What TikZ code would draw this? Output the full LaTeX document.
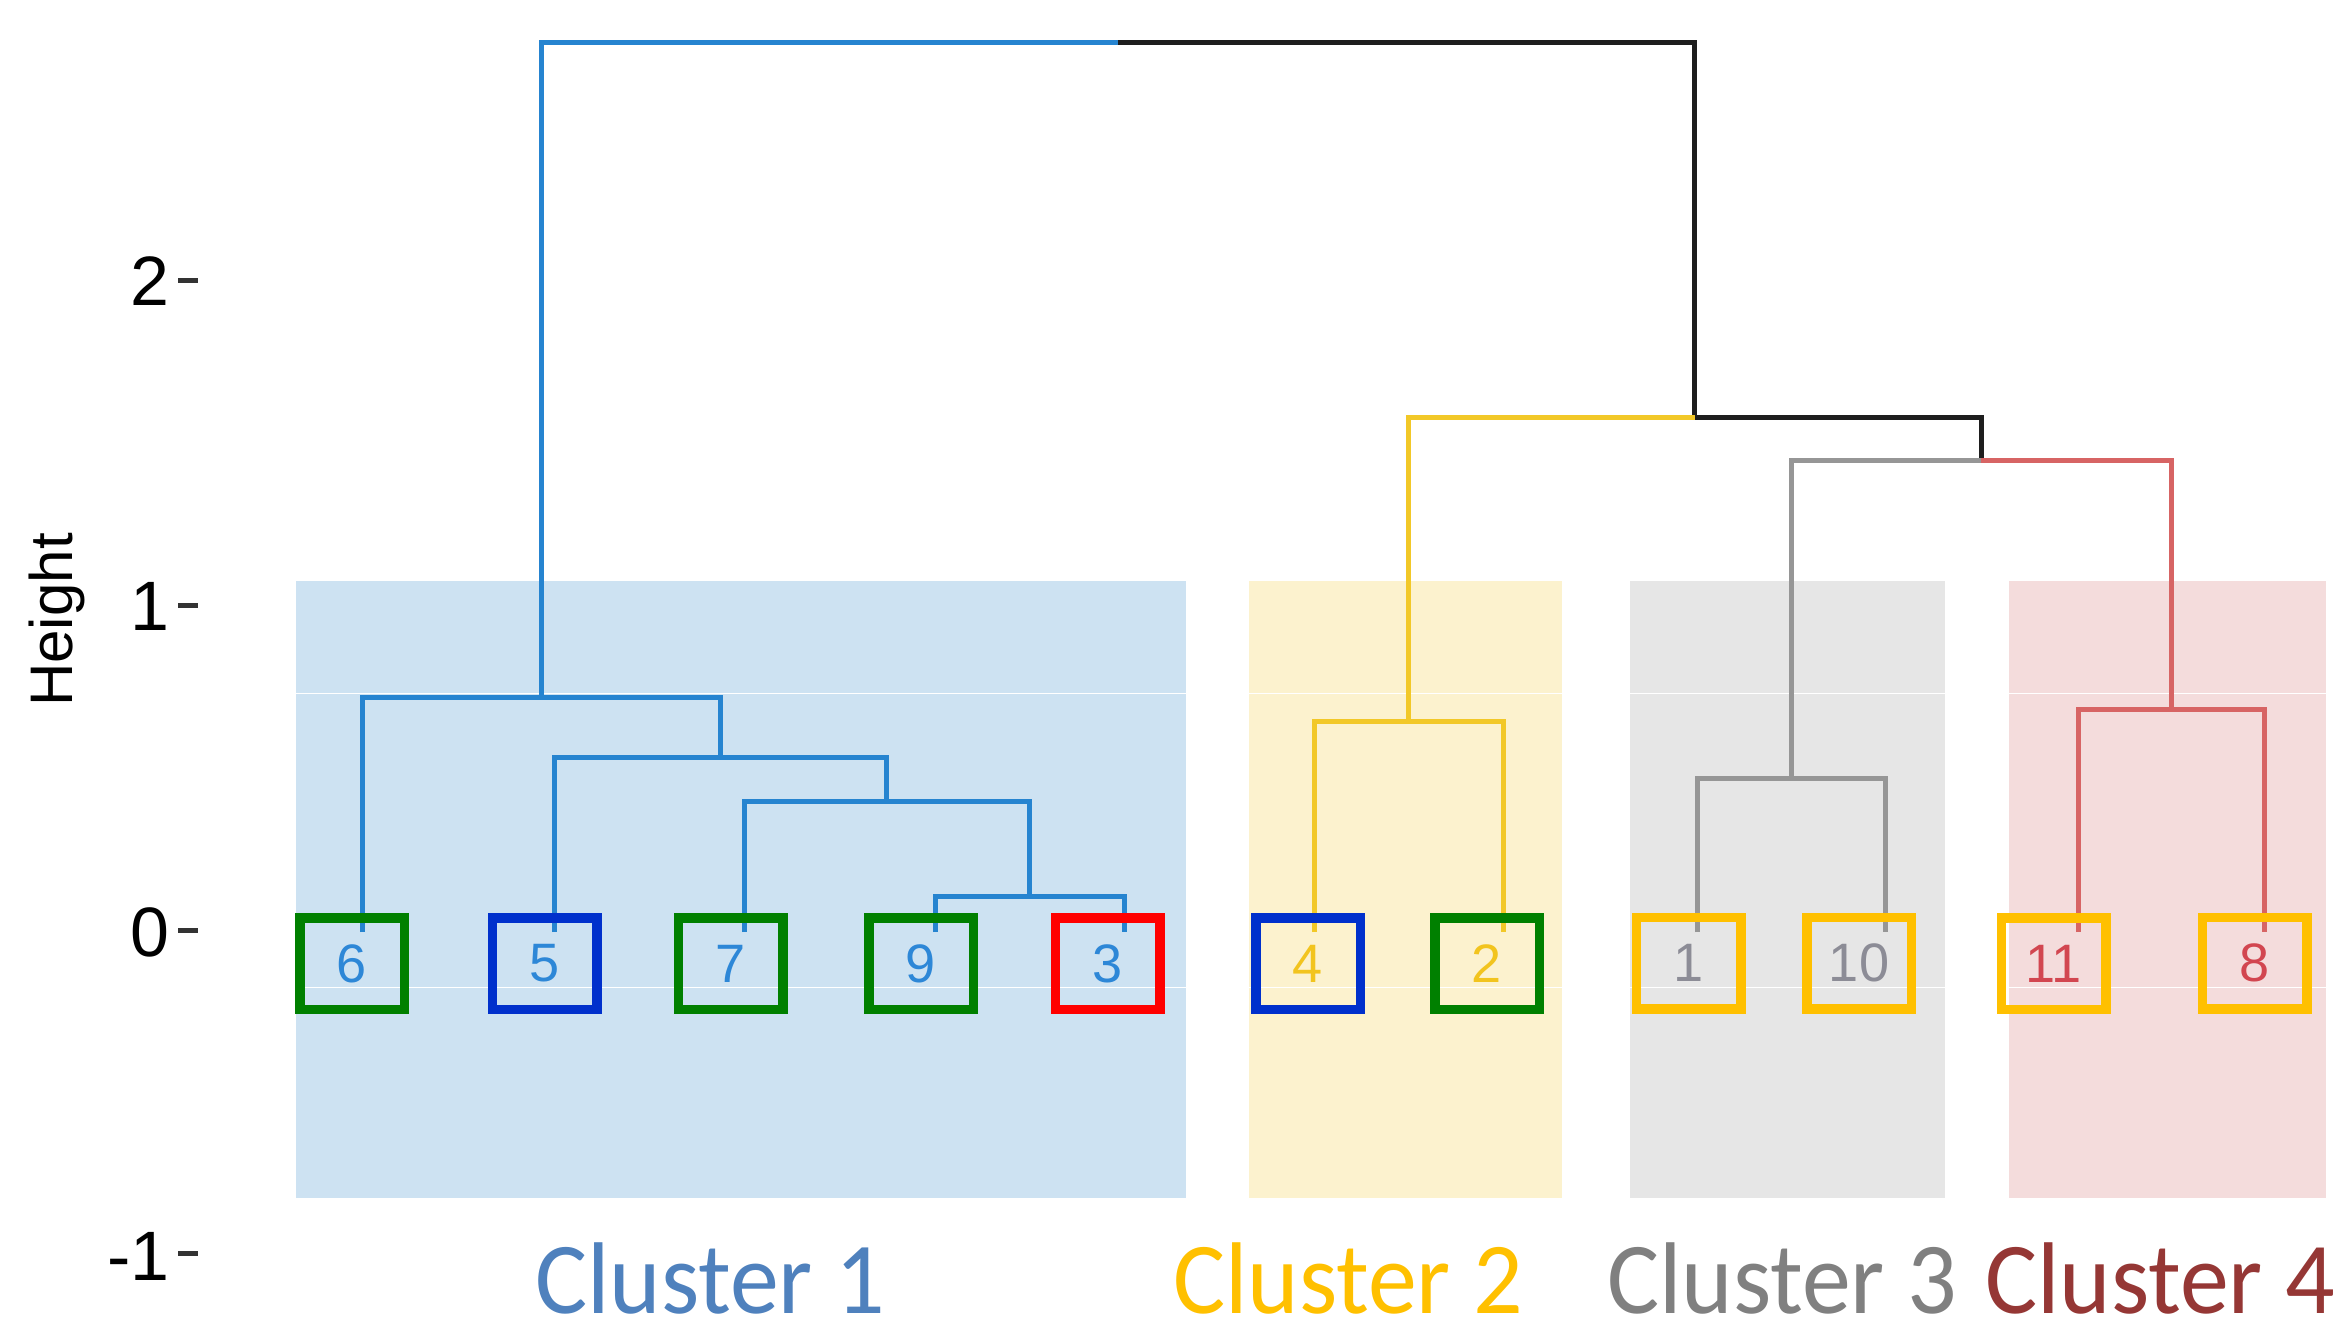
\documentclass[tikz,border=0pt]{standalone}
\usepackage{fontspec}
\usepackage{graphicx}
\setmainfont{Liberation Sans}
\newfontfamily\clusterfont{Carlito}

% branch colours
\definecolor{brA}{RGB}{38,132,208}
\definecolor{brB}{RGB}{242,200,40}
\definecolor{brC}{RGB}{150,150,150}
\definecolor{brD}{RGB}{215,100,100}
\definecolor{brK}{RGB}{30,30,30}
% leaf label colours
\definecolor{dgA}{RGB}{45,135,215}
\definecolor{dgB}{RGB}{242,196,30}
\definecolor{dgC}{RGB}{140,140,150}
\definecolor{dgD}{RGB}{210,70,80}
% shaded cluster bands
\definecolor{bgA}{RGB}{205,226,242}
\definecolor{bgB}{RGB}{252,242,206}
\definecolor{bgC}{RGB}{230,230,230}
\definecolor{bgD}{RGB}{244,220,220}
% frame colours around leaves
\definecolor{frG}{RGB}{0,128,0}
\definecolor{frB}{RGB}{0,48,204}
\definecolor{frR}{RGB}{255,0,0}
\definecolor{frY}{RGB}{255,192,0}
% cluster captions
\definecolor{capA}{RGB}{79,129,189}
\definecolor{capB}{RGB}{255,192,0}
\definecolor{capC}{RGB}{128,128,128}
\definecolor{capD}{RGB}{149,55,53}

\begin{document}
\begin{tikzpicture}[x=0.1mm,y=-0.1mm,
  branch/.style={line width=0.5mm,line join=miter},
  leafbox/.style={draw,line width=0.95mm,inner sep=0pt,minimum width=10.45mm,
    minimum height=9.15mm,font=\fontsize{15.4}{18}\selectfont},
  ticklabel/.style={anchor=east,inner sep=0pt,text=black,font=\fontsize{19.9}{24}\selectfont},
  tickmark/.style={line width=0.5mm,draw=black!80},
  caption/.style={anchor=base,inner sep=0pt,font=\clusterfont\fontsize{29}{34}\selectfont},
  seam/.style={draw=white,line width=0.1mm}]

\useasboundingbox (0,0) rectangle (2342,1326);

% shaded cluster bands
\fill[bgA] (296,581) rectangle (1186,1198);
\fill[bgB] (1249,581) rectangle (1562,1198);
\fill[bgC] (1630,581) rectangle (1945,1198);
\fill[bgD] (2009,581) rectangle (2326,1198);
\foreach \xa/\xb in {296/1186,1249/1562,1630/1945,2009/2326}{
  \draw[seam] (\xa,693) -- (\xb,693);
  \draw[seam] (\xa,987) -- (\xb,987);
}

% y axis
\node[ticklabel] (t2) at (170,281) {2};
\node[ticklabel] (t1) at (170,606) {1};
\node[ticklabel] (t0) at (170,932) {0};
\node[ticklabel] (tm) at (170,1256) {-1};
\foreach \yy in {280,605,930,1253}{
  \draw[tickmark] (178,\yy) -- (198,\yy);
}
\node[rotate=90,anchor=base,inner sep=0pt,font=\fontsize{17.1}{20}\selectfont] (ylab) at (73,620) {Height};

% leaf ends (height 0)
\coordinate (l6) at (362,932);
\coordinate (l5) at (554,932);
\coordinate (l7) at (744,932);
\coordinate (l9) at (935,932);
\coordinate (l3) at (1124,932);
\coordinate (l4) at (1314,932);
\coordinate (l2) at (1503,932);
\coordinate (l1) at (1697,932);
\coordinate (l10) at (1885,932);
\coordinate (l11) at (2078,932);
\coordinate (l8) at (2264,932);

% merge points
\coordinate (m93) at (1029.5,896);
\coordinate (m7) at (886.75,801);
\coordinate (m5) at (720.4,757);
\coordinate (m6) at (541.2,697);
\coordinate (m42) at (1408.5,721);
\coordinate (m110) at (1791,778);
\coordinate (m118) at (2171,709);
\coordinate (m34) at (1981,460);
\coordinate (m234) at (1694.75,417);
\coordinate (top) at (1118,42);

% cluster 1
\draw[branch,brA] (l9) |- (m93) -| (l3);
\draw[branch,brA] (l7) |- (m7) -| (m93);
\draw[branch,brA] (l5) |- (m5) -| (m7);
\draw[branch,brA] (l6) |- (m6) -| (m5);
\draw[branch,brA] (m6) |- (top);
% upper joins
\draw[branch,brK] (top) -| (m234);
\draw[branch,brK] (m234) -| (m34);
% cluster 2
\draw[branch,brB] (l4) |- (m42) -| (l2);
\draw[branch,brB] (m42) |- (m234);
% cluster 3
\draw[branch,brC] (l1) |- (m110) -| (l10);
\draw[branch,brC] (m110) |- (m34);
% cluster 4
\draw[branch,brD] (l11) |- (m118) -| (l8);
\draw[branch,brD] (m34) -| (m118);

% leaf labels in frames
\node[leafbox,draw=frG,text=dgA] (b6) at (352,963.5) {6};
\node[leafbox,draw=frB,text=dgA] (b5) at (544.5,963.5) {5};
\node[leafbox,draw=frG,text=dgA] (b7) at (730.5,963.5) {7};
\node[leafbox,draw=frG,text=dgA] (b9) at (921,963.5) {9};
\node[leafbox,draw=frR,text=dgA] (b3) at (1107.5,963.5) {3};
\node[leafbox,draw=frB,text=dgB] (b4) at (1308,963.5) {4};
\node[leafbox,draw=frG,text=dgB] (b2) at (1487,963.5) {2};
\node[leafbox,draw=frY,text=dgC] (b1) at (1688.5,963) {1};
\node[leafbox,draw=frY,text=dgC] (b10) at (1859,963) {10};
\node[leafbox,draw=frY,text=dgD] (b11) at (2053.5,963.5) {11};
\node[leafbox,draw=frY,text=dgD] (b8) at (2254.5,963) {8};

% cluster captions
\node[caption,text=capA] (c1) at (710,1313) {\scalebox{0.96}[1]{Cluster 1}};
\node[caption,text=capB] (c2) at (1348,1313) {\scalebox{0.96}[1]{Cluster 2}};
\node[caption,text=capC] (c3) at (1782,1313) {\scalebox{0.96}[1]{Cluster 3}};
\node[caption,text=capD] (c4) at (2160,1313) {\scalebox{0.96}[1]{Cluster 4}};
\end{tikzpicture}
\end{document}
